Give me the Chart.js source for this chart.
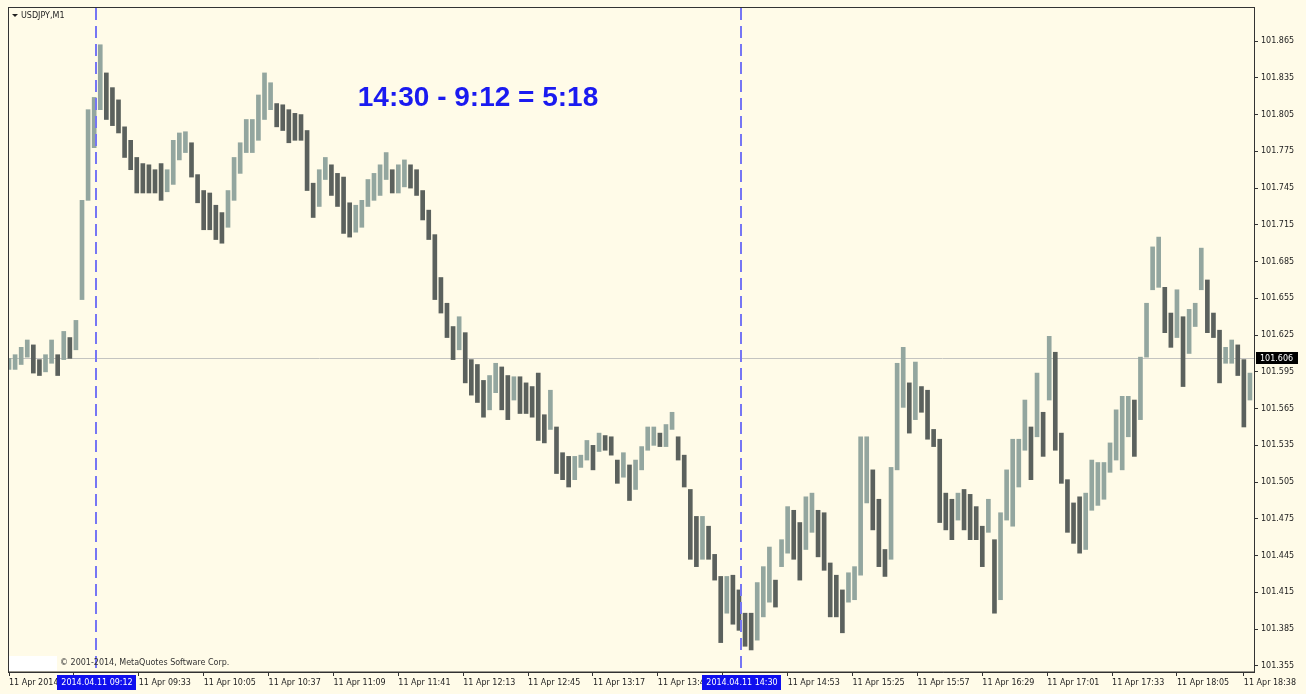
<!DOCTYPE html>
<html>
<head>
<meta charset="utf-8">
<title>USDJPY,M1</title>
<script src="https://cdn.jsdelivr.net/npm/chart.js@4.4.1/dist/chart.umd.min.js"></script>
<style>
  html, body { margin: 0; padding: 0; background: #fffbe8; }
  canvas { display: block; }
</style>
</head>
<body>
<canvas id="mt4-chart" width="1306" height="694"></canvas>
<script>
var symbolName = 'USDJPY,M1';
var copyrightText = '\u00a9 2001-2014, MetaQuotes Software Corp.';
var noteText = '14:30 - 9:12 = 5:18';
var noteMinute = 681;     // where the note starts (minutes since midnight)
var notePrice = 101.812;  // note baseline
var lastPrice = 101.606;

// one bar per 3 minutes, first bin at 08:29
var startMinute = 509;
var binMinutes = 3;

var highs = [
  101.606, 101.609, 101.615, 101.621, 101.617, 101.605, 101.609, 101.621, 101.609, 101.628,
  101.623, 101.637, 101.735, 101.809, 101.819, 101.862, 101.839, 101.827, 101.817, 101.795,
  101.784, 101.770, 101.765, 101.764, 101.760, 101.765, 101.760, 101.784, 101.790, 101.791,
  101.782, 101.756, 101.743, 101.741, 101.731, 101.725, 101.743, 101.770, 101.782, 101.801,
  101.801, 101.821, 101.839, 101.831, 101.814, 101.813, 101.809, 101.806, 101.805, 101.792,
  101.749, 101.760, 101.770, 101.764, 101.757, 101.754, 101.733, 101.731, 101.735, 101.752,
  101.757, 101.764, 101.774, 101.760, 101.764, 101.768, 101.764, 101.760, 101.743, 101.727,
  101.707, 101.672, 101.651, 101.632, 101.640, 101.627, 101.605, 101.601, 101.588, 101.592,
  101.602, 101.599, 101.592, 101.591, 101.591, 101.586, 101.583, 101.594, 101.560, 101.580,
  101.550, 101.529, 101.526, 101.526, 101.527, 101.539, 101.535, 101.545, 101.543, 101.542,
  101.523, 101.529, 101.519, 101.523, 101.534, 101.550, 101.550, 101.545, 101.552, 101.562,
  101.542, 101.527, 101.499, 101.477, 101.477, 101.469, 101.446, 101.428, 101.428, 101.429,
  101.417, 101.398, 101.398, 101.423, 101.436, 101.452, 101.425, 101.458, 101.485, 101.482,
  101.472, 101.493, 101.496, 101.482, 101.480, 101.439, 101.429, 101.417, 101.431, 101.436,
  101.542, 101.542, 101.515, 101.491, 101.450, 101.517, 101.602, 101.615, 101.586, 101.603,
  101.583, 101.580, 101.548, 101.540, 101.496, 101.491, 101.496, 101.499, 101.495, 101.485,
  101.469, 101.491, 101.458, 101.480, 101.515, 101.540, 101.540, 101.572, 101.550, 101.594,
  101.562, 101.624, 101.611, 101.545, 101.507, 101.488, 101.493, 101.496, 101.523, 101.521,
  101.521, 101.537, 101.564, 101.575, 101.575, 101.572, 101.607, 101.651, 101.697, 101.705,
  101.664, 101.643, 101.662, 101.640, 101.646, 101.651, 101.696, 101.670, 101.643, 101.629,
  101.615, 101.621, 101.617, 101.605, 101.594
];

var lows = [
  101.597, 101.597, 101.601, 101.607, 101.594, 101.592, 101.595, 101.602, 101.592, 101.605,
  101.606, 101.613, 101.654, 101.735, 101.778, 101.809, 101.801, 101.796, 101.790, 101.770,
  101.760, 101.741, 101.741, 101.741, 101.741, 101.735, 101.742, 101.748, 101.768, 101.774,
  101.754, 101.733, 101.711, 101.711, 101.703, 101.700, 101.713, 101.735, 101.757, 101.774,
  101.774, 101.784, 101.801, 101.809, 101.795, 101.792, 101.782, 101.784, 101.784, 101.743,
  101.721, 101.730, 101.752, 101.739, 101.730, 101.708, 101.705, 101.709, 101.713, 101.730,
  101.735, 101.739, 101.752, 101.741, 101.741, 101.746, 101.745, 101.739, 101.719, 101.703,
  101.654, 101.643, 101.623, 101.605, 101.613, 101.586, 101.576, 101.570, 101.558, 101.564,
  101.578, 101.564, 101.556, 101.572, 101.561, 101.561, 101.558, 101.539, 101.537, 101.548,
  101.512, 101.507, 101.501, 101.507, 101.517, 101.523, 101.515, 101.530, 101.531, 101.527,
  101.504, 101.509, 101.490, 101.499, 101.515, 101.531, 101.535, 101.534, 101.534, 101.548,
  101.523, 101.501, 101.442, 101.436, 101.442, 101.442, 101.425, 101.374, 101.398, 101.389,
  101.384, 101.371, 101.368, 101.376, 101.395, 101.407, 101.403, 101.436, 101.447, 101.442,
  101.425, 101.450, 101.464, 101.444, 101.433, 101.395, 101.395, 101.382, 101.407, 101.409,
  101.429, 101.488, 101.466, 101.436, 101.428, 101.442, 101.515, 101.566, 101.545, 101.556,
  101.562, 101.540, 101.534, 101.472, 101.466, 101.458, 101.474, 101.466, 101.458, 101.458,
  101.436, 101.464, 101.398, 101.409, 101.474, 101.469, 101.501, 101.531, 101.507, 101.542,
  101.526, 101.572, 101.531, 101.504, 101.464, 101.455, 101.447, 101.450, 101.482, 101.486,
  101.491, 101.513, 101.523, 101.515, 101.542, 101.526, 101.556, 101.607, 101.662, 101.664,
  101.627, 101.615, 101.623, 101.583, 101.610, 101.632, 101.662, 101.627, 101.623, 101.586,
  101.602, 101.602, 101.592, 101.550, 101.572
];

var yTicks = [101.355, 101.385, 101.415, 101.445, 101.475, 101.505, 101.535, 101.565, 101.595,
              101.625, 101.655, 101.685, 101.715, 101.745, 101.775, 101.805, 101.835, 101.865];

var xTickMinutes = [509, 541, 573, 605, 637, 669, 701, 733, 765, 797, 829, 861, 893, 925, 957, 989, 1021, 1053, 1085, 1118];
var xTickLabels = ['11 Apr 2014 08:29', '11 Apr 09:01', '11 Apr 09:33', '11 Apr 10:05', '11 Apr 10:37',
                   '11 Apr 11:09', '11 Apr 11:41', '11 Apr 12:13', '11 Apr 12:45', '11 Apr 13:17',
                   '11 Apr 13:49', '11 Apr 14:21', '11 Apr 14:53', '11 Apr 15:25', '11 Apr 15:57',
                   '11 Apr 16:29', '11 Apr 17:01', '11 Apr 17:33', '11 Apr 18:05', '11 Apr 18:38'];

// the two vertical period separators
var markerMinutes = [552, 870];
var markerLabels = ['2014.04.11 09:12', '2014.04.11 14:30'];

var bars = [];
var barColors = [];
for (var i = 0; i < highs.length; i++) {
  bars.push({x: startMinute + i * binMinutes, y: [lows[i], highs[i]]});
  var mid = (highs[i] + lows[i]) / 2;
  var prevMid = i > 0 ? (highs[i - 1] + lows[i - 1]) / 2 : mid;
  barColors.push(mid >= prevMid ? '#93a69f' : '#5b615d');
}

var smallFont = "8px 'DejaVu Sans', sans-serif";

var mt4Overlay = {
  id: 'mt4Overlay',
  beforeDatasetsDraw: function(chart) {
    var ctx = chart.ctx, area = chart.chartArea;
    var y = Math.round(chart.scales.y.getPixelForValue(lastPrice)) + 0.5;
    ctx.save();
    ctx.strokeStyle = '#c4c4c0';
    ctx.lineWidth = 1;
    ctx.beginPath();
    ctx.moveTo(area.left, y);
    ctx.lineTo(area.right, y);
    ctx.stroke();
    ctx.restore();
  },
  afterDatasetsDraw: function(chart) {
    var ctx = chart.ctx, area = chart.chartArea;
    var xs = chart.scales.x, ys = chart.scales.y;
    ctx.save();
    // dashed separators
    ctx.strokeStyle = '#7676f4';
    ctx.lineWidth = 2;
    ctx.setLineDash([12, 6]);
    for (var i = 0; i < markerMinutes.length; i++) {
      var x = Math.round(xs.getPixelForValue(markerMinutes[i]));
      ctx.beginPath();
      ctx.moveTo(x, area.top);
      ctx.lineTo(x, area.bottom);
      ctx.stroke();
    }
    ctx.setLineDash([]);

    // note
    ctx.fillStyle = '#1a1af0';
    ctx.font = "bold 28px 'Liberation Sans', Arial, sans-serif";
    ctx.textBaseline = 'alphabetic';
    ctx.textAlign = 'left';
    ctx.fillText(noteText, xs.getPixelForValue(noteMinute), ys.getPixelForValue(notePrice));

    // symbol caption
    ctx.fillStyle = '#222';
    ctx.beginPath();
    ctx.moveTo(area.left + 4, area.top + 6);
    ctx.lineTo(area.left + 10, area.top + 6);
    ctx.lineTo(area.left + 7, area.top + 9);
    ctx.closePath();
    ctx.fill();
    ctx.font = smallFont;
    ctx.textBaseline = 'middle';
    ctx.fillText(symbolName, area.left + 13, area.top + 8);

    // copyright
    ctx.fillStyle = '#ffffff';
    ctx.fillRect(area.left + 1, area.bottom - 16, 48, 15);
    ctx.fillStyle = '#333';
    ctx.fillText(copyrightText, area.left + 52, area.bottom - 9);
    ctx.restore();
  },
  afterDraw: function(chart) {
    var ctx = chart.ctx, area = chart.chartArea;
    var xs = chart.scales.x, ys = chart.scales.y;
    ctx.save();
    // frame
    ctx.strokeStyle = '#333';
    ctx.lineWidth = 1;
    ctx.strokeRect(area.left + 0.5, area.top - 0.5, area.right - area.left, area.bottom - area.top + 0.5);

    // highlighted time labels
    ctx.font = smallFont;
    ctx.textAlign = 'center';
    ctx.textBaseline = 'middle';
    for (var i = 0; i < markerMinutes.length; i++) {
      var x = Math.round(xs.getPixelForValue(markerMinutes[i]));
      ctx.fillStyle = '#1010ee';
      ctx.fillRect(x - 39, area.bottom + 3, 79, 15);
      ctx.fillStyle = '#ffffff';
      ctx.fillText(markerLabels[i], x + 1, area.bottom + 11);
    }

    // last price box
    var y = Math.round(ys.getPixelForValue(lastPrice));
    ctx.fillStyle = '#000';
    ctx.fillRect(area.right + 2, y - 6, 42, 12);
    ctx.fillStyle = '#fff';
    ctx.textAlign = 'left';
    ctx.fillText(lastPrice.toFixed(3), area.right + 6, y + 0.5);
    ctx.restore();
  }
};

Chart.defaults.font.family = "'DejaVu Sans', sans-serif";
Chart.defaults.font.size = 8;
Chart.defaults.color = '#222';

var ctx = document.getElementById('mt4-chart').getContext('2d');
var mt4Chart = new Chart(ctx, {
  type: 'bar',
  data: {
    datasets: [{
      label: symbolName,
      data: bars,
      backgroundColor: barColors,
      borderWidth: 0,
      barThickness: 4,
      minBarLength: 1
    }]
  },
  options: {
    responsive: false,
    animation: false,
    layout: { padding: { left: 8, top: 8, right: 0, bottom: 0 } },
    plugins: {
      legend: { display: false },
      tooltip: { enabled: false },
      title: { display: false }
    },
    scales: {
      x: {
        type: 'linear',
        offset: false,
        min: 508.5,
        max: 1123,
        afterBuildTicks: function(scale) {
          scale.ticks = xTickMinutes.map(function(v) { return {value: v}; });
        },
        afterFit: function(scale) { scale.height = 22; },
        ticks: {
          align: 'start',
          padding: 2,
          autoSkip: false,
          maxRotation: 0,
          color: '#222',
          callback: function(value, index) { return xTickLabels[index]; }
        },
        grid: { offset: false, drawOnChartArea: false, tickLength: 4, color: '#333' },
        border: { color: '#333' }
      },
      y: {
        position: 'right',
        min: 101.350,
        max: 101.892,
        afterBuildTicks: function(scale) {
          scale.ticks = yTicks.map(function(v) { return {value: v}; });
        },
        afterFit: function(scale) { scale.width = 52; },
        ticks: {
          padding: 3,
          color: '#222',
          callback: function(value) { return value.toFixed(3); }
        },
        grid: { drawOnChartArea: false, tickLength: 4, color: '#333' },
        border: { color: '#333' }
      }
    }
  },
  plugins: [mt4Overlay]
});
</script>
</body>
</html>
